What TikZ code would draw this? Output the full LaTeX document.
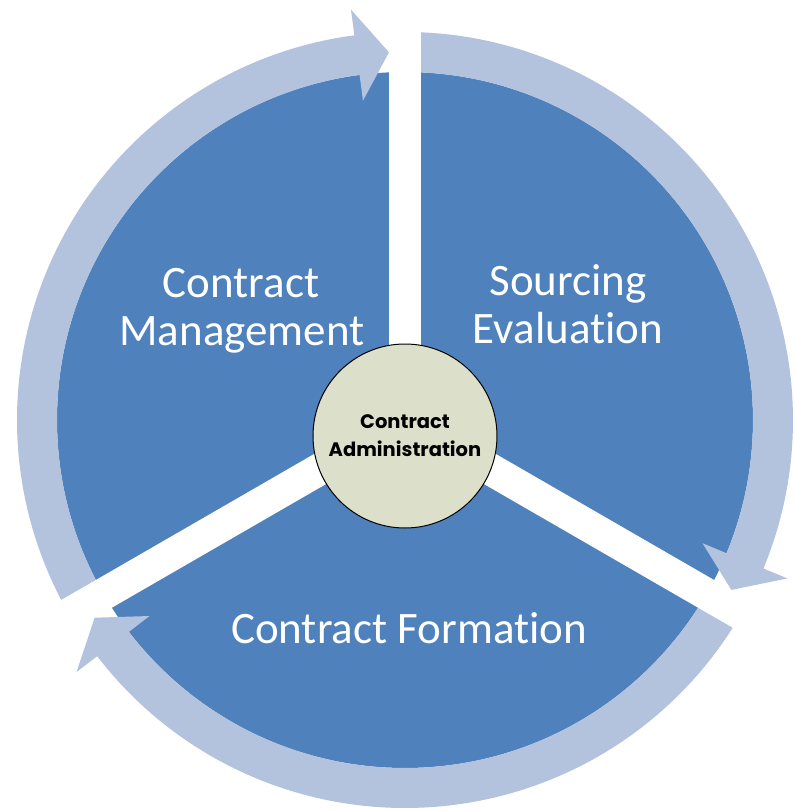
\documentclass[tikz,border=0pt]{standalone}
\usepackage{fontspec}
\setmainfont{Carlito}[Ligatures=NoCommon]
\newfontfamily\hubfont{Poppins}
\definecolor{wheelblue}{HTML}{4F81BD}
\definecolor{ringblue}{HTML}{B3C2DD}
\definecolor{hubfill}{HTML}{DCE0CB}
\tikzset{
  sector/.style={white,font=\fontsize{22.5}{24}\selectfont,anchor=base},
  ring/.style={fill=ringblue},
  gapbar/.style={white,line width=16pt},
  hub/.style={circle,draw=black,line width=0.5pt,fill=hubfill,minimum size=92pt,
    inner sep=0pt,align=center,font=\hubfont\bfseries\fontsize{9.75}{14}\selectfont}
}
\begin{document}
\begin{tikzpicture}[x=0.5pt,y=0.5pt]
\useasboundingbox (-405,-390) rectangle (389,420);

\fill[wheelblue] (0,0) circle[radius=348];

% ring arrows, clockwise
\fill[ring] (209:348) arc[start angle=209,end angle=97.5,radius=348] -- (97.5:322) -- (92.5:368)
  -- (97.5:414) -- (97.5:388) arc[start angle=97.5,end angle=209,radius=388] -- cycle;
\fill[ring] (89:348) arc[start angle=89,end angle=-22.5,radius=348] -- (-22.5:322) -- (-27.5:368)
  -- (-22.5:414) -- (-22.5:388) arc[start angle=-22.5,end angle=89,radius=388] -- cycle;
\fill[ring] (-31:348) arc[start angle=-31,end angle=-142.5,radius=348] -- (-142.5:322) -- (-147.5:368)
  -- (-142.5:414) -- (-142.5:388) arc[start angle=-142.5,end angle=-31,radius=388] -- cycle;

\coordinate (hub) at (0,0);
\draw[gapbar] (hub) -- (90:430);
\draw[gapbar] (hub) -- (210:430);
\draw[gapbar] (hub) -- (330:430);

\node[hub] (admin) at (0,-16) {Contract\\Administration};

\node[sector] (mgmtA) at (-164,123) {Contract};
\node[sector] (mgmtB) at (-163,75) {Management};
\node[sector] (srcA) at (163,125) {Sourcing};
\node[sector] (srcB) at (163,77) {Evaluation};
\node[sector] (form) at (4,-223) {Contract Formation};
\end{tikzpicture}
\end{document}
